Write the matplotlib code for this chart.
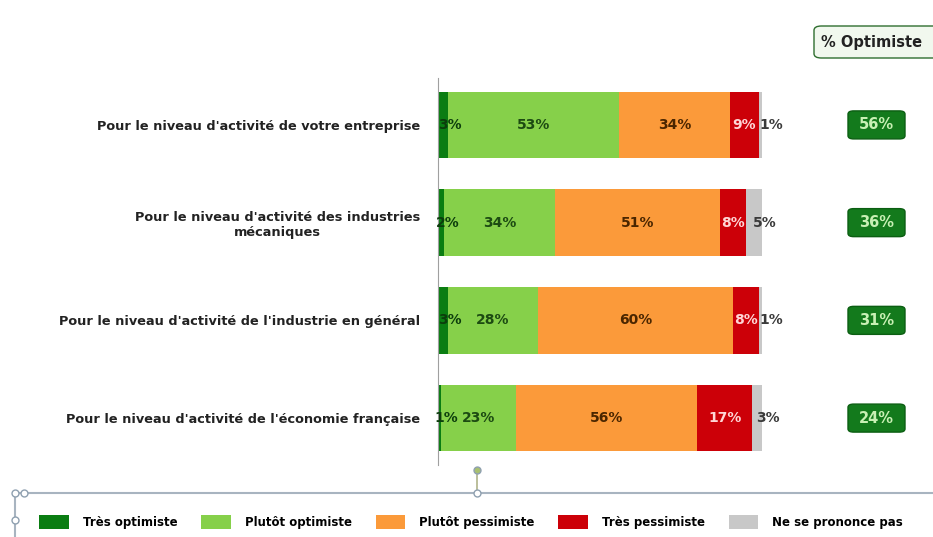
import numpy as np
from matplotlib import pyplot as plt
from matplotlib.patches import FancyBboxPatch, Patch
from matplotlib.lines import Line2D

plt.rcParams.update({
    "font.family": ["DejaVu Sans"],
    "font.weight": "bold",
})

categories = [
    "Pour le niveau d'activité de votre entreprise",
    "Pour le niveau d'activité des industries\nmécaniques",
    "Pour le niveau d'activité de l'industrie en général",
    "Pour le niveau d'activité de l'économie française",
]
series_names = ["Très optimiste", "Plutôt optimiste", "Plutôt pessimiste",
                "Très pessimiste", "Ne se prononce pas"]
tres_optimiste = [3, 2, 3, 1]
plutot_optimiste = [53, 34, 28, 23]
plutot_pessimiste = [34, 51, 60, 56]
tres_pessimiste = [9, 8, 8, 17]
ne_se_prononce_pas = [1, 5, 1, 3]
pct_optimiste = ["56%", "36%", "31%", "24%"]

colors = ["#0a7d12", "#86d04a", "#fb9a3a", "#cc0008", "#c8c8c8"]
label_colors = ["#0c3d0c", "#1c4a12", "#4a2600", "#ffd6d6", "#3a3a3a"]
label_shift = [7, 0, 0, 0, 11]  # px offset for thin segments

series = [tres_optimiste, plutot_optimiste, plutot_pessimiste,
          tres_pessimiste, ne_se_prononce_pas]

W, H = 933, 537
fig = plt.figure(figsize=(W / 100, H / 100), dpi=100)

ax = fig.add_axes([438 / W, 1 - 465 / H, 324 / W, 387 / H])
y = np.arange(len(categories))
left = np.zeros(len(categories))
for vals, col, lcol, sh in zip(series, colors, label_colors, label_shift):
    vals = np.array(vals, dtype=float)
    ax.barh(y, vals, left=left, height=0.68, color=col, edgecolor="none")
    for yi, (l, v) in enumerate(zip(left, vals)):
        ax.annotate(f"{int(v)}%", (l + v / 2, yi), xytext=(sh * 0.72, 0),
                    textcoords="offset points", ha="center", va="center",
                    fontsize=10, fontweight="bold", color=lcol)
    left += vals

ax.set_xlim(0, 100)
ax.set_ylim(len(categories) - 0.52, -0.48)
for s in ["top", "right", "bottom"]:
    ax.spines[s].set_visible(False)
ax.spines["left"].set_color("#a0a0a0")
ax.spines["left"].set_linewidth(0.8)
ax.set_xticks([])
ax.set_yticks(y)
ax.set_yticklabels(categories, fontsize=9.3, fontweight="bold", color="#222222")
ax.tick_params(axis="y", length=0, pad=0)
for t in ax.get_yticklabels():
    t.set_horizontalalignment("right")
    t.set_x(-18 / 324)
    t.set_multialignment("center")

# right column: % Optimiste
fig.patches.append(FancyBboxPatch((814 / W, 1 - 58 / H), 140 / W, 32 / H,
                                  boxstyle="round,pad=0,rounding_size=0.008",
                                  transform=fig.transFigure, facecolor="#f1f8ee",
                                  edgecolor="#2f6e2f", linewidth=1.0))
fig.text(821 / W, 1 - 42 / H, "% Optimiste", fontsize=10.5, fontweight="bold",
         color="#222222", va="center", ha="left")

for yi, txt in enumerate(pct_optimiste):
    yc = ax.transData.transform((0, yi))[1]
    yf = yc / H
    fig.patches.append(FancyBboxPatch((848 / W, yf - 14 / H), 57 / W, 28 / H,
                                      boxstyle="round,pad=0,rounding_size=0.006",
                                      transform=fig.transFigure,
                                      facecolor="#137a1c", edgecolor="#0b5e12",
                                      linewidth=1.0))
    fig.text(876.5 / W, yf, txt, fontsize=10.5, fontweight="bold", color="#c8f0b4",
             ha="center", va="center")

# connector lines (selection handles)
line_col = "#a8b4c0"
fig.add_artist(Line2D([18 / W, 1], [1 - 493 / H] * 2, color=line_col, lw=1.5,
                      transform=fig.transFigure))
fig.add_artist(Line2D([15 / W, 15 / W], [0, 1 - 493 / H], color=line_col, lw=1.5,
                      transform=fig.transFigure))
fig.add_artist(Line2D([477 / W, 477 / W], [1 - 493 / H, 1 - 470 / H],
                      color="#b0b48a", lw=1.2, transform=fig.transFigure))
for (px, py, fc) in [(15, 493, "white"), (24, 493, "white"), (15, 520, "white"),
                     (477, 493, "white"), (477, 470, "#a8c070")]:
    fig.add_artist(Line2D([px / W], [1 - py / H], marker="o", markersize=5,
                          markerfacecolor=fc, markeredgecolor="#8fa0b0",
                          transform=fig.transFigure))

handles = [Patch(facecolor=c, edgecolor="none") for c in colors]
fig.legend(handles, series_names, loc="center", bbox_to_anchor=(0.505, 1 - 522 / H),
           ncol=5, frameon=False, handlelength=2.5, handleheight=1.5,
           columnspacing=2.0, handletextpad=1.2,
           prop={"weight": "bold", "size": 8.5})

fig.savefig("out.png", dpi=100, facecolor="white")
